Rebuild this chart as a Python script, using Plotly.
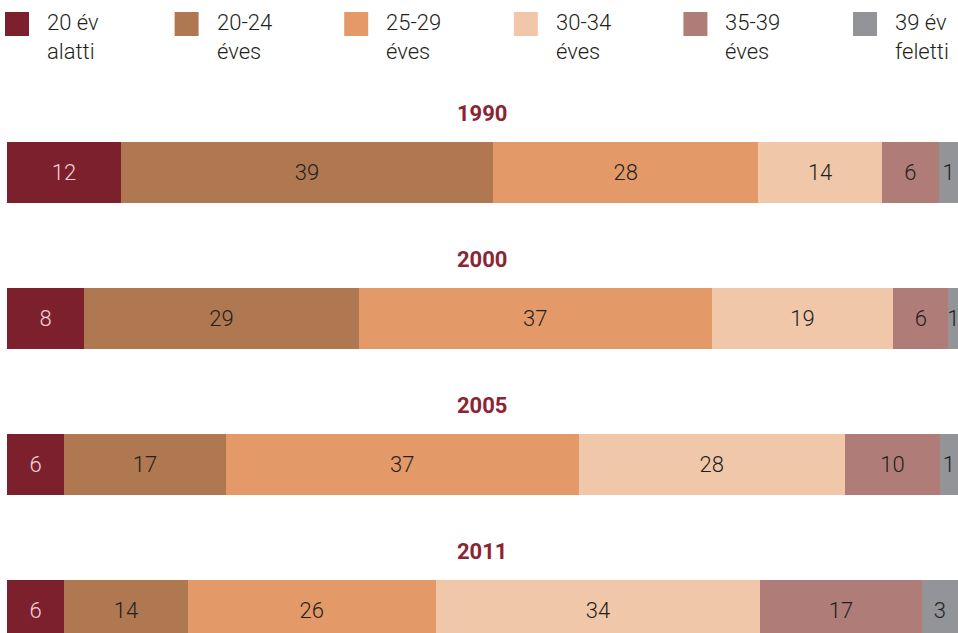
import plotly.graph_objects as go

years = ["1990", "2000", "2005", "2011"]
groups = ["20 év<br>alatti", "20-24<br>éves", "25-29<br>éves", "30-34<br>éves", "35-39<br>éves", "39 év<br>feletti"]

# segment shares per age group (one value per year)
under20 = [12.0, 8.1, 6.0, 6.0]
age20_24 = [39.1, 28.9, 17.0, 13.0]
age25_29 = [27.9, 37.1, 37.1, 26.1]
age30_34 = [13.0, 19.1, 28.0, 34.1]
age35_39 = [6.0, 5.8, 10.0, 17.0]
over39 = [2.0, 1.0, 1.9, 3.8]

# printed labels inside the bars
lab_under20 = [12, 8, 6, 6]
lab_20_24 = [39, 29, 17, 14]
lab_25_29 = [28, 37, 37, 26]
lab_30_34 = [14, 19, 28, 34]
lab_35_39 = [6, 6, 10, 17]
lab_over39 = [1, 1, 1, 3]

series = [under20, age20_24, age25_29, age30_34, age35_39, over39]
labels = [lab_under20, lab_20_24, lab_25_29, lab_30_34, lab_35_39, lab_over39]
colors = ["#7C202D", "#B07850", "#E39968", "#F0C7A8", "#B07C77", "#939498"]
text_colors = ["#F3D3DA", "#231F20", "#231F20", "#231F20", "#231F20", "#231F20"]

W, H = 958, 633
L = 7
FONT = "Roboto"
pos = list(range(len(years)))
step = 146.0
c0 = 172.5  # pixel centre of first bar

fig = go.Figure()
for vals, labs, name, col, tcol in zip(series, labels, groups, colors, text_colors):
    fig.add_trace(go.Bar(
        x=vals, y=pos, orientation="h", name=name,
        marker=dict(color=col, line=dict(width=0)),
        width=61 / step,
        text=[str(v) for v in labs],
        textposition="inside", insidetextanchor="middle", textangle=0,
        textfont=dict(color=tcol, size=22, family=FONT, weight=300),
        hoverinfo="skip", showlegend=False,
    ))

# year titles above each bar
for i, yr in enumerate(years):
    fig.add_annotation(
        x=50, y=i - 59.5 / step, xref="x", yref="y", text=f"<b>{yr}</b>",
        showarrow=False, xanchor="center", yanchor="middle",
        font=dict(size=22, color="#8B2535", family=FONT),
    )

# legend drawn as squares + two-line labels
plot_w = W - L
for k, (name, col) in enumerate(zip(groups, colors)):
    px = 5 + 169.6 * k
    fig.add_shape(
        type="rect", xref="paper", yref="paper",
        x0=(px - L) / plot_w, x1=(px + 24 - L) / plot_w,
        y0=1 - 36 / H, y1=1 - 12 / H,
        fillcolor=col, line=dict(width=0), layer="above",
    )
    fig.add_annotation(
        x=(px + 40 - L) / plot_w, y=1 - 37 / H, xref="paper", yref="paper",
        text=name, showarrow=False, xanchor="left", yanchor="middle", align="left",
        font=dict(size=22, color="#231F20", family=FONT, weight=300),
    )

fig.update_layout(
    barmode="stack",
    width=W, height=H,
    margin=dict(l=L, r=0, t=0, b=0),
    paper_bgcolor="white", plot_bgcolor="white",
    uniformtext=dict(minsize=22, mode="show"),
    xaxis=dict(range=[0, 100], visible=False, fixedrange=True),
    yaxis=dict(range=[3 + (H - 3 * step - c0) / step, -c0 / step], visible=False, fixedrange=True),
    font=dict(family=FONT),
)

fig.write_html(
    "out.html",
    config={"displayModeBar": False},
    post_script="document.body.style.margin='0';document.body.style.overflow='hidden';",
)
